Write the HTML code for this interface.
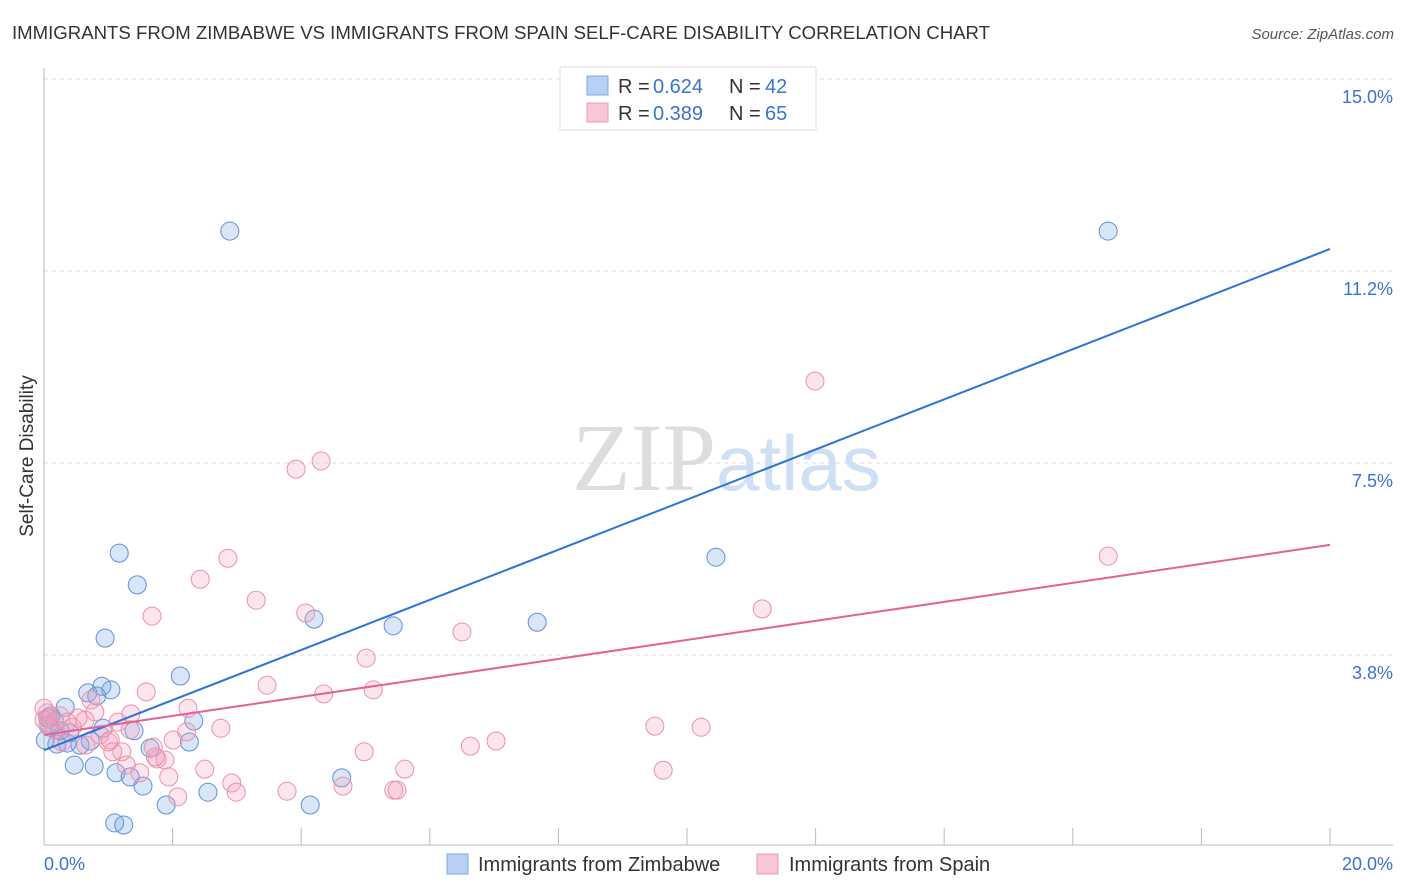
<!DOCTYPE html>
<html><head><meta charset="utf-8"><style>
body{margin:0;background:#fff;font-family:"Liberation Sans",sans-serif;}
svg{display:block}
</style></head><body>
<svg id="chart" width="1406" height="892">
<text x="12" y="39" font-size="18.6" fill="#333">IMMIGRANTS FROM ZIMBABWE VS IMMIGRANTS FROM SPAIN SELF-CARE DISABILITY CORRELATION CHART</text>
<text x="1394" y="39" font-size="15" fill="#555" font-style="italic" text-anchor="end">Source: ZipAtlas.com</text>
<text x="716" y="490" font-size="96" fill="#ddd" text-anchor="end" font-family="Liberation Serif,serif">ZIP</text>
<text x="716" y="490" font-size="78" fill="#cfe0f5">atlas</text>
<text transform="translate(33,456) rotate(-90)" font-size="19" fill="#333" text-anchor="middle">Self-Care Disability</text>
<g id="grid"></g><g id="axes"></g><g id="pts"></g><g id="lines"></g>
<g>
<rect x="560" y="67" width="256" height="63" fill="#fff" stroke="#ddd"/>
<rect x="587" y="76" width="21" height="19" fill="#b7d0f3" stroke="#7fa8e0"/>
<rect x="587" y="103" width="21" height="19" fill="#f8c6d6" stroke="#ec9ab5"/>
<g font-size="20" fill="#333">
<text x="618" y="93">R =</text><text x="653" y="93" fill="#3a72d0">0.624</text><text x="729" y="93">N =</text><text x="765" y="93" fill="#3a72d0">42</text></g>
<g font-size="20" fill="#333">
<text x="618" y="120">R =</text><text x="653" y="120" fill="#3a72d0">0.389</text><text x="729" y="120">N =</text><text x="765" y="120" fill="#3a72d0">65</text></g>
</g>
<g>
<rect x="447" y="854" width="21" height="20" fill="#b7d0f3" stroke="#7fa8e0"/>
<text x="478" y="871" font-size="20" fill="#333">Immigrants from Zimbabwe</text>
<rect x="757" y="854" width="21" height="20" fill="#f8c6d6" stroke="#ec9ab5"/>
<text x="789" y="871" font-size="20" fill="#333">Immigrants from Spain</text>
</g>
</svg>
<script>
const yTicks=[3.75,7.5,11.25,15];
const yTickLabels=["3.8%","7.5%","11.2%","15.0%"];
const xTicks=[0,2,4,6,8,10,12,14,16,18,20];
const zimX=[2.89,16.55,1.17,1.45,0.95,4.20,5.43,7.67,10.45,2.12,1.04,0.68,0.82,0.90,0.33,0.11,0.09,0.20,0.40,0.56,0.36,0.92,1.40,1.65,2.33,2.26,0.47,0.78,1.12,1.34,1.54,2.55,4.63,1.90,4.14,1.10,1.24,0.25,0.06,0.72,0.02,0.17];
const zimY=[12.03,12.03,5.74,5.12,4.08,4.45,4.32,4.39,5.66,3.34,3.07,3.01,2.95,3.14,2.73,2.56,2.34,2.01,2.23,1.99,2.03,2.32,2.27,1.93,2.46,2.05,1.60,1.58,1.45,1.37,1.19,1.07,1.35,0.82,0.82,0.47,0.43,2.27,2.52,2.07,2.09,2.44];
const spX=[3.92,4.31,11.99,2.86,2.43,16.55,3.30,1.68,4.07,11.17,6.50,5.01,3.47,1.59,5.12,4.35,2.24,1.35,9.50,10.22,2.75,7.03,6.63,4.98,1.70,2.01,2.22,1.15,0.79,0.64,0.25,0.05,0.0,0.0,0.44,0.87,1.00,1.21,1.28,1.49,1.76,1.88,1.94,2.50,2.92,2.99,3.78,4.65,5.61,5.44,5.49,2.08,9.63,0.17,0.28,0.53,1.03,0.73,1.07,1.34,0.65,0.09,0.36,1.73,0.06];
const spY=[7.38,7.54,9.10,5.64,5.23,5.68,4.82,4.51,4.57,4.65,4.20,3.69,3.16,3.03,3.07,2.99,2.71,2.60,2.36,2.34,2.32,2.07,1.97,1.86,1.95,2.09,2.25,2.44,2.64,2.48,2.56,2.62,2.71,2.48,2.34,2.19,2.05,1.86,1.60,1.45,1.72,1.70,1.37,1.52,1.25,1.07,1.09,1.19,1.52,1.11,1.11,0.98,1.50,2.29,2.05,2.52,2.09,2.87,1.86,2.29,1.99,2.52,2.44,1.76,2.38];
const zimTrend=[1.89,11.68];
const spTrend=[2.19,5.90];
const NS="http://www.w3.org/2000/svg";
const xs=v=>44+v/20*1286;
const ys=v=>847-v*51.2;
function mk(tag,attrs,parent){const e=document.createElementNS(NS,tag);for(const k in attrs)e.setAttribute(k,attrs[k]);document.getElementById(parent).appendChild(e);return e;}
yTicks.forEach((t,i)=>{
 const l=mk('line',{x1:44,x2:1393,y1:ys(t),y2:ys(t),stroke:'#ddd','stroke-dasharray':'4,4'},'grid');
 
 
 const tx=mk('text',{x:1393,y:ys(t)+24,'font-size':18,fill:'#3a72d0','text-anchor':'end'},'grid');
 tx.textContent=yTickLabels[i];
 
 
});
const ax=mk('line',{x1:44,x2:44,y1:68,y2:845,stroke:'#bbb'},'axes');


const bx=mk('line',{x1:44,x2:1393,y1:845,y2:845,stroke:'#bbb'},'axes');


xTicks.forEach(t=>{
 const l=mk('line',{x1:xs(t),x2:xs(t),y1:828,y2:845,stroke:'#bbb'},'axes');
 
 
});
[[0,"0.0%",'start',44],[20,"20.0%",'end',1393]].forEach(a=>{
 const t=mk('text',{x:a[3],y:870,'font-size':18,fill:'#3a72d0','text-anchor':a[2]},'axes');
 t.textContent=a[1];
 
 
});
zimX.forEach((x,i)=>{
 const c=mk('circle',{cx:xs(x),cy:ys(zimY[i]),r:9,fill:'rgba(120,165,230,0.28)',stroke:'#5d91db','stroke-width':1},'pts');
 
 
});
spX.forEach((x,i)=>{
 const c=mk('circle',{cx:xs(x),cy:ys(spY[i]),r:9,fill:'rgba(243,160,188,0.28)',stroke:'#eb90ae','stroke-width':1},'pts');
 
 
});
const zl=mk('line',{x1:xs(0),y1:ys(zimTrend[0]),x2:xs(20),y2:ys(zimTrend[1]),stroke:'#2f74d8','stroke-width':2},'lines');


const sl=mk('line',{x1:xs(0),y1:ys(spTrend[0]),x2:xs(20),y2:ys(spTrend[1]),stroke:'#e4628f','stroke-width':2},'lines');


</script>
</body></html>
